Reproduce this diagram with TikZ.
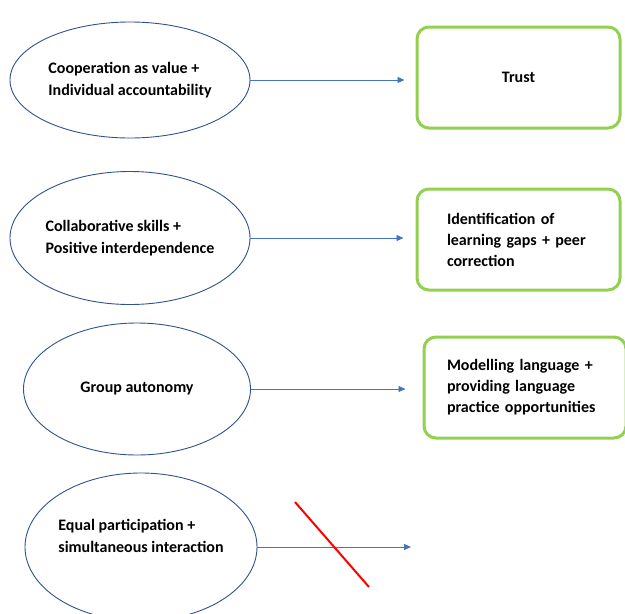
\documentclass[tikz,border=0pt]{standalone}
\usepackage{fontspec}
\setmainfont{Carlito}
\usepackage{xcolor}
\usepackage{tikz}
\usetikzlibrary{arrows.meta,shapes.geometric}

\definecolor{linkblue}{HTML}{4472C4}
\definecolor{edgeblue}{HTML}{2F528F}
\definecolor{boxgreen}{HTML}{92D050}

\begin{document}
\begin{tikzpicture}[
      x=1pt, y=-1pt,
      font=\fontsize{16}{22}\selectfont\bfseries,
      cause/.style={draw=edgeblue, line width=0.9pt, ellipse, inner sep=-4pt,
                    align=left},
      effect/.style={draw=boxgreen, line width=3pt, rounded corners=12pt,
                     align=left, minimum width=203pt, minimum height=101pt,
                     font=\fontsize{16}{21}\selectfont\bfseries},
      link/.style={draw=linkblue, line width=0.9pt,
                   -{Triangle[length=7pt,width=6pt]}},
      cross/.style={draw=red, line width=2pt}]

    %% frame: same size as the 625 x 614 page, y grows downwards
    \useasboundingbox (0,0) rectangle (625,614);

    %% ---- left column: the conditions ----
    \node[cause, minimum width=240pt, minimum height=116pt] (coop) at (130,80)
      {Cooperation as value +\\Individual accountability};
    \node[cause, minimum width=240pt, minimum height=133pt] (collab) at (130,238)
      {Collaborative skills +\\Positive interdependence};
    \node[cause, minimum width=227pt, minimum height=132pt] (auto) at (137,389)
      {Group autonomy};
    %% empty last row lifts the two lines above the centre, as drawn
    \node[cause, minimum width=232pt, minimum height=148pt] (equal) at (141,547)
      {Equal participation +\\simultaneous interaction\\\mbox{}};

    %% ---- right column: what each one yields ----
    \node[effect] (trust) at (518.5,77.5) {Trust};
    \node[effect, text width=143pt] (gaps) at (518.5,239.5)
      {Identification of\\learning gaps + peer\\correction};
    \node[effect, text width=156pt, minimum width=202pt] (model) at (525,387.5)
      {Modelling language +\\providing language\\practice opportunities};
    \coordinate (none) at (411,547);

    %% ---- arrows; the last one leads nowhere and is struck out ----
    \draw[link] (coop.east) -- ([xshift=-11pt]coop.east -| trust.west);
    \draw[link] (collab.east) -- ([xshift=-12pt]collab.east -| gaps.west);
    \draw[link] (auto.east) -- ([xshift=-17pt]auto.east -| model.west);
    \draw[link] (equal.east) -- (none);
    \draw[cross] (295,502) -- (369,587);
  \end{tikzpicture}
\end{document}
